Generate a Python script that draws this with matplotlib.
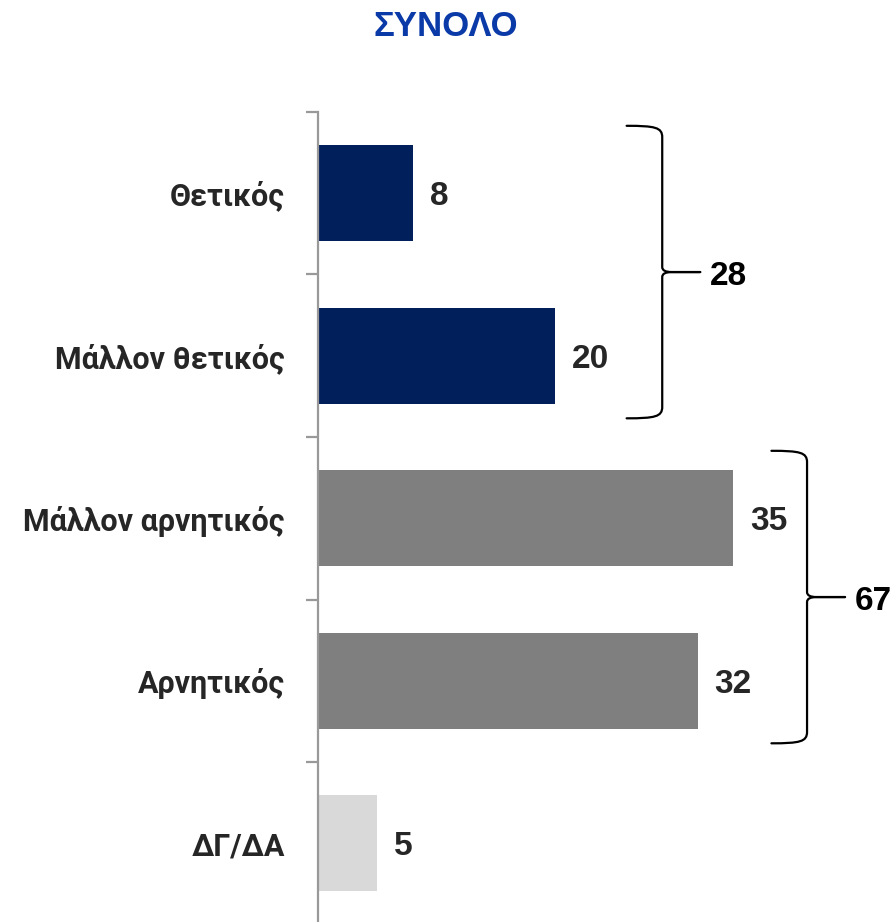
import matplotlib
matplotlib.use("Agg")
import matplotlib.pyplot as plt
import numpy as np
from matplotlib.path import Path
from matplotlib.patches import PathPatch

# ── data ────────────────────────────────────────────────────────────────
CATEGORIES = ["Θετικός", "Μάλλον θετικός", "Μάλλον αρνητικός", "Αρνητικός", "ΔΓ/ΔΑ"]
VALUES     = [8, 20, 35, 32, 5]
COLORS     = ["#001F5B", "#001F5B", "#7F7F7F", "#7F7F7F", "#D9D9D9"]
GROUPS     = [(0, 1), (2, 3)]          # category index ranges for the braces
GROUP_SUMS = [28, 67]
TITLE      = "ΣΥΝΟΛΟ"

# ── style ───────────────────────────────────────────────────────────────
NUM_FONT   = ["Liberation Sans"]
LABEL_FONT = ["Roboto", "DejaVu Sans"]
TEXT_COL   = "#262626"
AXIS_COL   = "#999999"
BRACE_X    = [26.0, 38.2]              # left end of each brace (data units)

W, H = 895, 922
fig = plt.figure(figsize=(W / 100, H / 100), dpi=100)
ax_left, ax_top = 318, 112
px_per_unit = 11.87
x_max = 48
cat_px = 162.5
ax_h = cat_px * len(CATEGORIES)
ax = fig.add_axes([ax_left / W, (H - ax_top - ax_h) / H,
                   x_max * px_per_unit / W, ax_h / H])

y = np.arange(len(CATEGORIES))
ax.barh(y, VALUES, height=0.59, color=COLORS, zorder=2)
ax.set_xlim(0, x_max)
ax.set_ylim(len(CATEGORIES) - 0.5, -0.5)

for yi, v in zip(y, VALUES):
    ax.text(v + 1.4, yi + 0.02, f"{v}", va="center", ha="left", fontsize=24,
            fontweight="bold", color=TEXT_COL, family=NUM_FONT)

# spines / ticks
for s in ("top", "right", "bottom"):
    ax.spines[s].set_visible(False)
ax.spines["left"].set_color(AXIS_COL)
ax.spines["left"].set_linewidth(1.6)
ax.set_xticks([])
ax.set_yticks(y)
ax.set_yticklabels(CATEGORIES, fontsize=22, fontweight="bold",
                   color=TEXT_COL, family=LABEL_FONT)
ax.tick_params(axis="y", which="major", length=0, pad=24)
ax.set_yticks(np.arange(-0.5, len(CATEGORIES), 1.0), minor=True)
ax.tick_params(axis="y", which="minor", length=9, width=1.6, color=AXIS_COL)

# braces
rx = 0.8
for (i0, i1), xe, total in zip(GROUPS, BRACE_X, GROUP_SUMS):
    top, bot = i0 - 0.415, i1 + 0.385
    tip = (top + bot) / 2
    xs, xt = xe + 3.0, xe + 6.2
    for end, sgn in ((top, 1), (bot, -1)):
        verts = [(xe, end), (xs - 0.6, end), (xs, end + sgn * 0.01),
                 (xs, end + sgn * 0.07), (xs, tip - sgn * 0.03),
                 (xs, tip), (xs + rx, tip), (xt, tip)]
        codes = [Path.MOVETO, Path.CURVE4, Path.CURVE4, Path.CURVE4,
                 Path.LINETO, Path.CURVE3, Path.CURVE3, Path.LINETO]
        ax.add_patch(PathPatch(Path(verts, codes), fill=False, lw=1.6,
                               edgecolor="black", clip_on=False,
                               capstyle="round", joinstyle="round"))
    ax.text(xt + 0.8, tip + 0.03, f"{total}", va="center", ha="left",
            fontsize=24, fontweight="bold", color="black", family=NUM_FONT,
            clip_on=False)

fig.text(446 / W, 1 - 27 / H, TITLE, ha="center", va="center", fontsize=25,
         fontweight="bold", color="#0A3AA8", family=["Liberation Sans"])

fig.savefig("out.png", dpi=100)
